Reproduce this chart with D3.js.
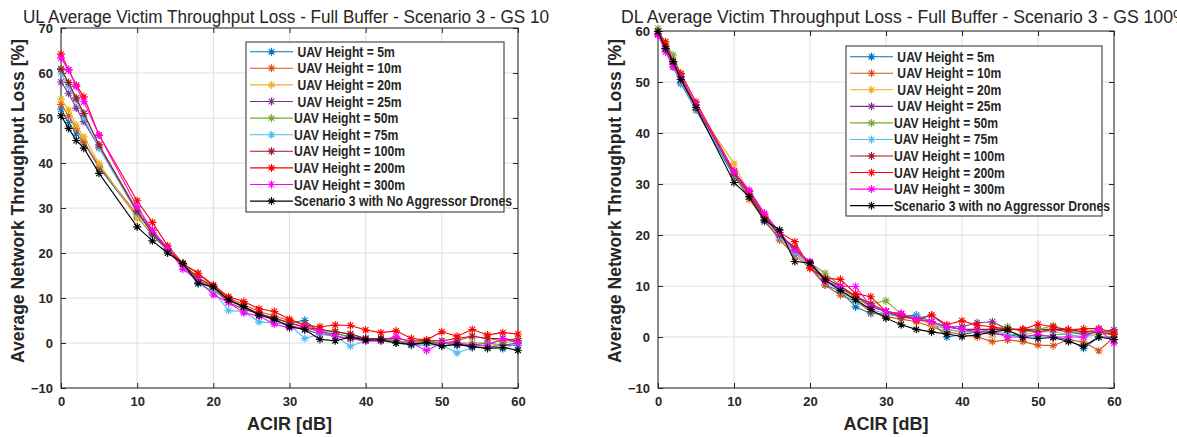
<!DOCTYPE html>
<html>
<head>
<meta charset="utf-8">
<script src="https://cdn.jsdelivr.net/npm/d3@7"></script>
<style>
body { margin: 0; background: #fff; }
text { font-family: "Liberation Sans", Arial, sans-serif; fill: #262626; }
.leg text { white-space: pre; }
</style>
</head>
<body>
<svg width="1177" height="437"></svg>
<script>
// ACIR values [dB]
var acir = [0,1,2,3,5,10,12,14,16,18,20,22,24,26,28,30,32,34,36,38,40,42,44,46,48,50,52,54,56,58,60];

var colors = ["#0072BD","#D95319","#EDB120","#7E2F8E","#77AC30","#4DBEEE","#A2142F","#FF0000","#FF00FF","#000000"];
var ulLabels = [" UAV Height = 5m"," UAV Height = 10m"," UAV Height = 20m"," UAV Height = 25m","UAV Height = 50m","UAV Height = 75m","UAV Height = 100m","UAV Height = 200m","UAV Height = 300m","Scenario 3 with No Aggressor Drones"];
var dlLabels = [" UAV Height = 5m"," UAV Height = 10m"," UAV Height = 20m"," UAV Height = 25m","UAV Height = 50m","UAV Height = 75m","UAV Height = 100m","UAV Height = 200m","UAV Height = 300m","Scenario 3 with no Aggressor Drones"];

// UL loss [%]
var ul5   = [52,49,46.5,44.5,39,28,24,20.5,17.5,14,12,9.5,8,6.5,5.5,4.5,5,2.5,2,1.5,1,1,0.5,0,0,0,-0.5,-0.5,0,-0.5,-0.5];
var ul10  = [53,50.5,47.7,44.7,39.3,28.5,25,21,17.5,15.5,12.5,10,8.5,7,6,5,4,3,2.5,2,1,1,0.5,0,0.5,0,0.5,1.5,1,0.5,1];
var ul20  = [54.2,51.8,48.4,45.8,39.9,27.7,24.5,20.5,17,14.5,12,9.5,8,6.5,5.5,4.5,3.5,2.5,1.5,1,0.5,0.5,0,-0.5,-0.5,0,0,-0.5,-1,0,0.5];
var ul25  = [58,55.5,52.2,49.2,43.5,29.5,25,20.8,17,14,12,9,7.5,6.5,5,4,3,2,1.5,1,0.5,0.5,0.5,-0.5,0,0,0,-1,-1,-0.5,0];
var ul50  = [61,57.5,54.5,51,44,29.5,24.5,20.5,17.5,14,12,9.5,8,6.5,5.5,4.5,3.5,2.5,2.5,1,0.5,0.5,0.5,0,0.5,0,0,0,0,0.5,0.5];
var ul75  = [60,57,54,50,43.3,28.9,24.5,20.5,17,13.1,11.5,7.2,7,4.7,4.5,4,1,2,1.5,-0.7,0.5,0.5,0,-0.5,-0.5,-0.5,-2.2,-1,-1,-1.4,0];
var ul100 = [60.8,57.9,54.4,51,44,29.2,24.4,20.8,17.5,14.5,12.5,9.5,8,6.5,5.5,4.5,3.5,3,2.5,2,1,1,1,0.5,0.5,0.5,1,1.5,1,1,0.5];
var ul200 = [64.2,60.7,57.3,54.7,46.2,31.6,26.8,21.6,17.7,15.5,12.9,10.3,9.2,7.6,7,5.3,4,3.6,4,3.9,2.9,2.3,2.7,1,0.7,2.5,1.5,3,1.8,2.3,2];
var ul300 = [63.3,60.7,57,53.6,46.2,30.3,25.1,21,16.4,14,10.7,9,6.7,6,4.2,3.3,3.5,2.5,1.5,1,0.5,0.5,1.5,0,-1.7,0,0,-0.5,-0.5,1,0];
var ulRef = [50.5,47.7,45,43.3,37.7,25.8,22.7,20,17.7,13.3,12.5,9.6,8.1,6.2,5.3,3.6,3,0.8,0.5,1.3,0.7,0.7,0,-0.3,0.1,-0.7,-0.3,-0.8,-1.2,-1,-1.6];

// DL loss [%]
var dl5   = [59.5,56.5,53,49.7,44.5,31.5,27.5,22.6,19.5,16.5,14,10.2,9,5.9,4.6,4.5,4,4.3,3,0,0.5,1,0.5,0.5,0,0.5,0,-0.5,-2.2,0,0];
var dl10  = [59.5,56.5,53,50,44.5,32,27,23,19,16,13.5,10.2,8.2,7,5,4,3.5,3,2,1,0.5,0,-0.9,-0.6,-0.9,-1.6,-1.7,-0.5,-1,-2.7,0];
var dl20  = [60,57,54,51,45,34,28,23.5,20,17,14,11,9.5,7.5,6,5,4.5,3.5,2.5,1.5,1,1,0.5,1,0.5,1,1,0.5,0,0.5,0.5];
var dl25  = [59.5,56.5,53.5,50.5,45,32.5,28,23.5,20,17,14.5,11,9.5,8,6,5,4.5,3.5,4.3,2,2,2.8,3,1.5,1.5,1.5,1.5,1,0.5,1,1.4];
var dl50  = [60.5,57.5,55.3,51.5,45,31.8,28,24,20,17.5,14.5,12.5,10,8,6.5,7.1,4.5,3.5,3,2,1.5,1,1.5,2,1,1.5,2.2,1,1,1.5,0.5];
var dl75  = [59.5,56.5,53,50,44.5,32,28,23.5,19.5,16.5,14,11,9,7,5.5,4.5,4,4,3,1.5,1,1,1,0.5,0.5,0,0.5,0.5,0,1,0.5];
var dl100 = [59.5,57,53.5,51,45.5,32,28,23.5,20,17.5,14.5,11.5,10,8,6.5,5,4,3.5,3,2,1.5,1.5,1.5,1.5,1.4,1,1.5,1.5,1,1,0.5];
var dl200 = [59.5,57.9,54,51.7,46.1,32.5,28.5,24,20.5,18.7,13.5,11.5,11.3,8.5,7.9,5,4.5,3.3,4.3,2.4,3.2,2.3,2,1.5,1.5,2.5,2,1.4,1.6,1.7,0.8];
var dl300 = [59.2,55.9,53,51,45.5,32.4,28.8,24.3,20.5,17,14.8,11,9.9,9.9,6,5,4.6,3.5,3,2,1.5,1,1,0,0,0.5,0,0,0,1.5,-1.2];
var dlRef = [59.9,56.6,54,50.5,45,30.3,27.5,22.9,21,14.8,14.5,11.2,9.1,7.3,5.4,3.7,2.4,1.5,1,0.6,0.1,0.4,1,1.4,-0.1,-0.3,-0.1,-0.9,-1.8,0,-0.5];

var xTicks = [0,10,20,30,40,50,60];
var ulYTicks = [-10,0,10,20,30,40,50,60,70];
var dlYTicks = [-10,0,10,20,30,40,50,60];

var svg = d3.select("svg");
var star = "M-4,0H4M0,-4V4M-2.8,-2.8L2.8,2.8M-2.8,2.8L2.8,-2.8";

// natural width of a string at a given font
function textWidth(str, size, weight) {
  var t = svg.append("text").style("font-size", size + "px").style("font-weight", weight)
    .style("white-space", "pre").text(str);
  var w = t.node().getComputedTextLength();
  t.remove();
  return w;
}

function drawPanel(p) {
  var x = d3.scaleLinear().domain([0, 60]).range([p.left, p.right]);
  var y = d3.scaleLinear().domain(p.yDomain).range([p.bottom, p.top]);
  var g = svg.append("g");

  // grid
  g.selectAll(".gx").data(xTicks).enter().append("line")
    .attr("x1", d => x(d)).attr("x2", d => x(d)).attr("y1", p.top).attr("y2", p.bottom)
    .attr("stroke", "#dedede").attr("stroke-width", 1);
  g.selectAll(".gy").data(p.yTicks).enter().append("line")
    .attr("y1", d => y(d)).attr("y2", d => y(d)).attr("x1", p.left).attr("x2", p.right)
    .attr("stroke", "#dedede").attr("stroke-width", 1);

  // axes
  g.append("g").attr("transform", "translate(0," + p.bottom + ")")
    .call(d3.axisBottom(x).tickValues(xTicks).tickSizeInner(-5).tickSizeOuter(0).tickPadding(9));
  g.append("g").attr("transform", "translate(" + p.left + ",0)")
    .call(d3.axisLeft(y).tickValues(p.yTicks).tickSizeInner(-5).tickSizeOuter(0).tickPadding(8));
  g.append("g").attr("transform", "translate(0," + p.top + ")")
    .call(d3.axisTop(x).tickValues(xTicks).tickSizeInner(-5).tickSizeOuter(0).tickFormat(""));
  g.append("g").attr("transform", "translate(" + p.right + ",0)")
    .call(d3.axisRight(y).tickValues(p.yTicks).tickSizeInner(-5).tickSizeOuter(0).tickFormat(""));
  g.selectAll(".domain").remove();
  g.selectAll(".tick line").attr("stroke", "#262626");
  g.selectAll(".tick text").style("font-size", "13px").style("font-weight", "bold")
    .attr("fill", "#262626").style("font-family", "'Liberation Sans', Arial, sans-serif");

  g.append("rect").attr("x", p.left).attr("y", p.top)
    .attr("width", p.right - p.left).attr("height", p.bottom - p.top)
    .attr("fill", "none").attr("stroke", "#262626").attr("stroke-width", 1);

  // series
  var line = d3.line().x((d, i) => x(acir[i])).y(d => y(d));
  p.series.forEach(function(s, k) {
    g.append("path").datum(s).attr("d", line).attr("fill", "none")
      .attr("stroke", colors[k]).attr("stroke-width", 1.1);
    g.selectAll(".m" + k).data(s).enter().append("path")
      .attr("d", star).attr("transform", (d, i) => "translate(" + x(acir[i]) + "," + y(d) + ")")
      .attr("fill", "none").attr("stroke", colors[k]).attr("stroke-width", 1.1);
  });

  // title (clipped)
  var clipId = "clip" + p.name;
  svg.append("clipPath").attr("id", clipId).append("rect")
    .attr("x", 0).attr("y", 0).attr("width", p.clipRight).attr("height", 437);
  var vis = textWidth(p.titleVisible, 18, "normal");
  var sc = p.titleWidth / vis;
  svg.append("text").attr("clip-path", "url(#" + clipId + ")")
    .attr("x", p.titleX).attr("y", 23).style("font-size", "18px").attr("fill", "#000")
    .attr("textLength", textWidth(p.title, 18, "normal") * sc).attr("lengthAdjust", "spacingAndGlyphs")
    .text(p.title);

  // axis labels
  g.append("text").attr("x", (p.left + p.right) / 2).attr("y", 430).attr("text-anchor", "middle")
    .style("font-size", "19px").style("font-weight", "bold")
    .attr("textLength", 85).attr("lengthAdjust", "spacingAndGlyphs").text("ACIR [dB]");
  g.append("text").attr("transform", "translate(" + p.yLabelX + ",201) rotate(-90)")
    .attr("text-anchor", "middle").style("font-size", "18px").style("font-weight", "bold")
    .attr("textLength", 324).attr("lengthAdjust", "spacingAndGlyphs")
    .text("Average Network Throughput Loss [%]");

  // legend
  var L = p.legend;
  var lg = svg.append("g").attr("class", "leg");
  lg.append("rect").attr("x", L.x).attr("y", L.y).attr("width", L.w).attr("height", L.h)
    .attr("fill", "#fff").attr("stroke", "#262626").attr("stroke-width", 1);
  var longW = textWidth(p.labels[9], 14, "bold");
  var ls = L.longWidth / longW;
  p.labels.forEach(function(lab, k) {
    var ry = L.row0 + k * L.step;
    lg.append("line").attr("x1", L.lineX).attr("x2", L.lineX + 43).attr("y1", ry).attr("y2", ry)
      .attr("stroke", colors[k]).attr("stroke-width", 1.1);
    lg.append("path").attr("d", star).attr("transform", "translate(" + (L.lineX + 21.5) + "," + ry + ")")
      .attr("fill", "none").attr("stroke", colors[k]).attr("stroke-width", 1.1);
    lg.append("text").attr("x", L.lineX + 44).attr("y", ry).attr("dy", "0.36em")
      .style("font-size", "14px").style("font-weight", "bold").attr("fill", "#000")
      .attr("textLength", textWidth(lab, 14, "bold") * ls).attr("lengthAdjust", "spacingAndGlyphs")
      .text(lab);
  });
}

drawPanel({
  name: "ul", left: 61, right: 518, top: 28, bottom: 388,
  yDomain: [-10, 70], yTicks: ulYTicks,
  series: [ul5, ul10, ul20, ul25, ul50, ul75, ul100, ul200, ul300, ulRef],
  labels: ulLabels,
  title: "UL Average Victim Throughput Loss - Full Buffer - Scenario 3 - GS 100%",
  titleVisible: "UL Average Victim Throughput Loss - Full Buffer - Scenario 3 - GS 10",
  titleX: 23, titleWidth: 526, clipRight: 549, yLabelX: 24,
  legend: {x: 246, y: 42, w: 258, h: 170, row0: 51.7, step: 16.6, lineX: 250, longWidth: 218}
});

drawPanel({
  name: "dl", left: 658, right: 1114, top: 31, bottom: 388,
  yDomain: [-10, 60], yTicks: dlYTicks,
  series: [dl5, dl10, dl20, dl25, dl50, dl75, dl100, dl200, dl300, dlRef],
  labels: dlLabels,
  title: "DL Average Victim Throughput Loss - Full Buffer - Scenario 3 - GS 100%",
  titleVisible: "DL Average Victim Throughput Loss - Full Buffer - Scenario 3 - GS 100",
  titleX: 621, titleWidth: 552, clipRight: 1177, yLabelX: 621,
  legend: {x: 846, y: 46, w: 256, h: 170, row0: 56.7, step: 16.55, lineX: 850, longWidth: 216}
});
</script>
</body>
</html>
